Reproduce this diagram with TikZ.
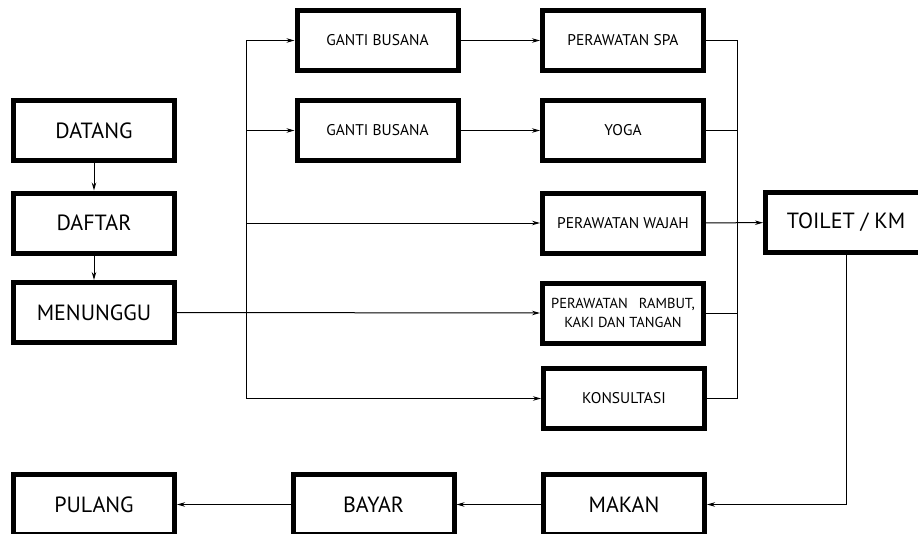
\documentclass[tikz,border=0pt]{standalone}
\usepackage{fontspec}
\setmainfont{PT Sans}
\usetikzlibrary{arrows.meta}
\begin{document}
\begin{tikzpicture}[x=1pt,y=-1pt,
  box/.style={draw, line width=5pt, minimum width=161pt, minimum height=60pt, inner sep=0pt, align=center, font=\fontsize{15.5}{20}\selectfont},
  bigbox/.style={box, font=\fontsize{22}{26}\selectfont},
  conn/.style={line width=1pt},
  arr/.style={conn, -{Stealth[length=8pt,width=4.5pt]}}]
\clip (0,0) rectangle (918,533);
\fill[white] (0,0) rectangle (918,533);
% left column
\node[bigbox] (datang) at (94,130.5) {DATANG};
\node[bigbox] (daftar) at (94,223) {DAFTAR};
\node[bigbox] (menunggu) at (94,312.5) {MENUNGGU};
% middle
\node[box] (gb1) at (377.5,40.5) {GANTI BUSANA};
\node[box] (gb2) at (377.5,130.5) {GANTI BUSANA};
% services
\node[box] (spa) at (623,40.5) {PERAWATAN SPA};
\node[box] (yoga) at (623,130.5) {YOGA};
\node[box] (wajah) at (623,223) {PERAWATAN WAJAH};
\node[box, font=\fontsize{14.5}{19}\selectfont] (rambut) at (623,313) {PERAWATAN\hspace{11pt}RAMBUT,\\KAKI DAN TANGAN};
\node[box] (kons) at (624,398.5) {KONSULTASI};
\node[bigbox] (toilet) at (846,222.5) {TOILET / KM};
% bottom row
\node[bigbox] (makan) at (624,504.5) {MAKAN};
\node[bigbox] (bayar) at (373.5,504.5) {BAYAR};
\node[bigbox] (pulang) at (94,504.5) {PULANG};
% coordinates for buses
\coordinate (btop) at (246,40.5);
\coordinate (bbot) at (246,398.5);
\coordinate (rtop) at (737,40.5);
\coordinate (rbot) at (737,398.5);
% connectors
\draw[arr] (datang) -- (daftar);
\draw[arr] (daftar) -- (menunggu);
\draw[arr] (menunggu.east) -- (rambut.west);
\draw[conn] (btop) -- (bbot);
\draw[arr] (btop) -- (gb1.west);
\draw[arr] (gb2.west -| btop) -- (gb2.west);
\draw[arr] (wajah.west -| btop) -- (wajah.west);
\draw[arr] (bbot) -- (kons.west);
\draw[arr] (gb1) -- (spa);
\draw[arr] (gb2) -- (yoga);
\draw[conn] (spa.east) -- (rtop) -- (rbot) -- (kons.east);
\draw[conn] (yoga.east) -- (yoga.east -| rtop);
\draw[conn] (rambut.east) -- (rambut.east -| rtop);
\draw[arr] (wajah) -- (toilet);
\draw[arr] (toilet.south) |- (makan.east);
\draw[arr] (makan) -- (bayar);
\draw[arr] (bayar) -- (pulang);
\end{tikzpicture}
\end{document}
